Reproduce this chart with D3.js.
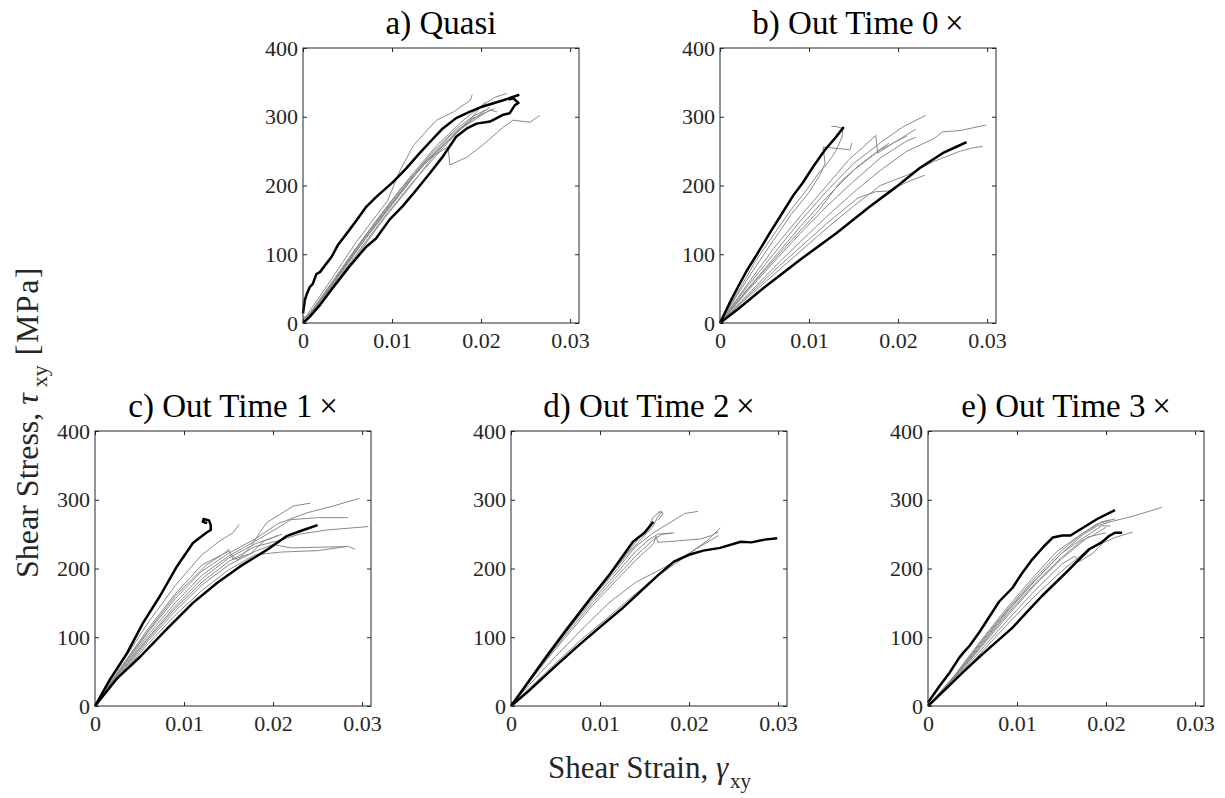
<!DOCTYPE html>
<html>
<head>
<meta charset="utf-8">
<script src="https://cdn.jsdelivr.net/npm/d3@7"></script>
<style>
  body { margin: 0; background: #fff; }
  svg text { font-family: "Liberation Serif", serif; }
</style>
</head>
<body>
<script>
// tick values / labels
var xTicks = [0, 0.01, 0.02, 0.03];
var yTicks = [0, 100, 200, 300, 400];
var titles = ["a) Quasi", "b) Out Time 0\u2009\u00d7", "c) Out Time 1\u2009\u00d7", "d) Out Time 2\u2009\u00d7", "e) Out Time 3\u2009\u00d7"];

// a) Quasi : bounding (black) and other (gray) curves, [strain, stress]
var quasiBlack = [
  [[0,14],[0.0002,33],[0.00045,43],[0.00075,52],[0.0011,57],[0.0015,71],[0.0019,74],[0.0026,86],[0.0032,96],[0.0039,113],[0.0049,130],[0.006,149],[0.0071,169],[0.0082,183],[0.0101,205],[0.0116,225],[0.0131,247],[0.0146,268],[0.0157,283],[0.0172,298],[0.0187,307],[0.0202,315],[0.0225,324],[0.0243,332]],
  [[0,0],[0.00075,9],[0.0019,26],[0.0034,52],[0.0052,82],[0.0071,111],[0.0082,123],[0.0097,150],[0.0112,170],[0.0127,193],[0.0142,217],[0.0157,242],[0.0172,271],[0.0184,283],[0.0195,290],[0.021,293],[0.0225,303],[0.0232,305],[0.0238,317],[0.0242,320],[0.0236,327],[0.0231,325]]
];
var quasiGray = [
  [[0,0],[0.002,35],[0.005,90],[0.008,145],[0.011,196],[0.014,238],[0.0163,256],[0.0165,230],[0.0184,241],[0.0202,259],[0.0225,285],[0.0236,295],[0.0255,292],[0.0266,302]],
  [[0,3],[0.001,22],[0.003,60],[0.006,118],[0.0095,178],[0.0109,222],[0.0124,258],[0.0139,280],[0.015,295],[0.0169,307],[0.0188,324],[0.019,332]],
  [[0,0],[0.003,55],[0.006,110],[0.009,162],[0.012,212],[0.015,258],[0.018,295],[0.02,315],[0.0215,328],[0.0229,334]],
  [[0,0],[0.003,50],[0.006,105],[0.009,158],[0.012,207],[0.015,250],[0.018,285],[0.021,310],[0.0218,307]],
  [[0,0],[0.003,48],[0.006,100],[0.009,152],[0.012,200],[0.015,244],[0.0175,280],[0.0195,300],[0.021,314]],
  [[0,0],[0.003,52],[0.006,108],[0.009,160],[0.012,209],[0.0145,248],[0.017,280],[0.019,300],[0.0205,310]],
  [[0,5],[0.002,30],[0.005,88],[0.008,140],[0.011,190],[0.014,238],[0.0165,272],[0.019,297],[0.0215,312]],
  [[0,0],[0.003,45],[0.006,97],[0.009,150],[0.012,198],[0.0145,240],[0.017,275],[0.0192,300]],
  [[0,8],[0.001,12],[0.0015,25],[0.004,68],[0.007,122],[0.01,172],[0.013,222],[0.016,262],[0.0185,292],[0.0205,322]]
];

// b) Out Time 0x
var out0Black = [
  [[0,0],[0.001,27],[0.002,52],[0.003,76],[0.0043,103],[0.0056,131],[0.007,160],[0.0082,185],[0.0093,204],[0.0105,228],[0.0118,252],[0.013,270],[0.0139,285]],
  [[0,0],[0.002,20],[0.005,52],[0.009,92],[0.0131,131],[0.0168,169],[0.0198,198],[0.0224,225],[0.025,247],[0.0265,256],[0.0277,263]]
];
var out0Gray = [
  [[0,0],[0.002,45],[0.004,90],[0.006,128],[0.008,165],[0.0098,195],[0.0112,220],[0.0118,228],[0.0125,240],[0.013,250],[0.0137,270],[0.0138,283],[0.013,286],[0.0125,286]],
  [[0,0],[0.002,42],[0.004,82],[0.006,120],[0.008,158],[0.01,190],[0.0112,215],[0.0118,232],[0.0116,256],[0.0146,252],[0.0148,262]],
  [[0,0],[0.003,55],[0.006,108],[0.009,155],[0.012,200],[0.0145,238],[0.016,255],[0.0175,273],[0.0177,247],[0.019,258],[0.0205,270],[0.022,282]],
  [[0,0],[0.003,52],[0.006,100],[0.009,148],[0.012,192],[0.015,232],[0.018,262],[0.0205,285],[0.0231,302]],
  [[0,0],[0.003,48],[0.006,94],[0.009,140],[0.012,183],[0.015,222],[0.018,252],[0.021,272]],
  [[0,0],[0.003,45],[0.006,88],[0.009,130],[0.012,170],[0.015,206],[0.018,240],[0.021,265],[0.022,270]],
  [[0,0],[0.003,40],[0.006,80],[0.009,118],[0.012,155],[0.015,190],[0.018,222],[0.021,250],[0.024,268],[0.025,278],[0.027,280],[0.0299,288]],
  [[0,0],[0.003,38],[0.006,75],[0.009,110],[0.012,145],[0.0155,182],[0.0175,191],[0.019,192],[0.021,205],[0.023,215]],
  [[0,0],[0.003,36],[0.006,70],[0.009,104],[0.012,138],[0.015,170],[0.018,200],[0.021,215],[0.024,235],[0.027,250],[0.0285,255],[0.0295,257]],
  [[0,0],[0.004,62],[0.008,120],[0.011,162],[0.0135,205],[0.0155,228],[0.0175,248],[0.019,262]]
];

// c) Out Time 1x
var out1Black = [
  [[0,0],[0.0017,39],[0.0036,77],[0.0054,121],[0.0073,160],[0.0092,203],[0.011,237],[0.0125,252],[0.013,256],[0.013,263],[0.0128,270],[0.0122,272],[0.0121,268],[0.0126,266]],
  [[0,0],[0.0024,39],[0.0051,72],[0.008,111],[0.011,150],[0.0137,179],[0.0163,203],[0.0193,227],[0.0215,247],[0.0234,256],[0.025,263]]
];
var out1Gray = [
  [[0,0],[0.003,62],[0.006,122],[0.009,175],[0.012,220],[0.014,240],[0.0155,252],[0.0162,264]],
  [[0,0],[0.003,58],[0.006,113],[0.009,163],[0.012,205],[0.015,225],[0.016,212],[0.0175,232],[0.0185,252],[0.0193,267],[0.0208,279],[0.0223,291],[0.0242,295]],
  [[0,0],[0.003,55],[0.006,108],[0.009,156],[0.012,196],[0.015,222],[0.018,243],[0.0205,265],[0.0238,281],[0.0265,290],[0.0297,302]],
  [[0,0],[0.003,53],[0.006,104],[0.009,150],[0.012,190],[0.015,218],[0.018,240],[0.02,255],[0.022,271],[0.025,274],[0.0284,274]],
  [[0,0],[0.003,50],[0.006,98],[0.009,142],[0.012,180],[0.015,210],[0.018,232],[0.0205,240],[0.023,250],[0.026,256],[0.0307,261]],
  [[0,0],[0.003,48],[0.006,95],[0.009,138],[0.012,176],[0.015,205],[0.018,225],[0.02,235],[0.022,230],[0.0285,232],[0.0292,228]],
  [[0,0],[0.003,46],[0.006,91],[0.009,132],[0.012,168],[0.015,198],[0.018,220],[0.021,224],[0.025,226],[0.0283,232]],
  [[0,0],[0.003,56],[0.006,110],[0.009,160],[0.0125,205],[0.0145,222],[0.015,228],[0.0155,213],[0.0175,222],[0.019,240],[0.0205,248]],
  [[0,0],[0.003,52],[0.006,100],[0.009,145],[0.012,185],[0.015,215],[0.018,236],[0.02,245],[0.021,250]]
];

// d) Out Time 2x
var out2Black = [
  [[0,0],[0.002,36],[0.004,72],[0.006,107],[0.0089,156],[0.011,190],[0.0137,239],[0.015,252],[0.016,268]],
  [[0,0],[0.002,22],[0.005,58],[0.0075,87],[0.01,115],[0.0125,142],[0.0145,166],[0.0165,190],[0.0183,210],[0.02,220],[0.0216,226],[0.0235,230],[0.0258,239],[0.027,238],[0.0285,242],[0.0299,244]]
];
var out2Gray = [
  [[0,0],[0.002,38],[0.004,75],[0.006,110],[0.009,160],[0.012,205],[0.014,238],[0.0155,262],[0.016,275],[0.0168,283],[0.0171,280],[0.0165,270]],
  [[0,0],[0.002,37],[0.004,73],[0.006,107],[0.009,155],[0.012,200],[0.014,232],[0.016,252],[0.018,268],[0.0195,280],[0.021,283]],
  [[0,0],[0.002,36],[0.004,71],[0.006,104],[0.009,152],[0.012,195],[0.014,225],[0.0155,242],[0.0165,250],[0.0183,252]],
  [[0,0],[0.002,35],[0.004,69],[0.006,101],[0.009,148],[0.012,190],[0.014,218],[0.016,242],[0.017,250],[0.018,251]],
  [[0,0],[0.002,34],[0.004,67],[0.006,98],[0.009,144],[0.012,185],[0.014,212],[0.016,236],[0.0163,247],[0.0165,238],[0.0185,240],[0.0213,243],[0.0225,248],[0.0233,253]],
  [[0,0],[0.002,30],[0.005,72],[0.008,112],[0.011,150],[0.014,180],[0.017,200],[0.02,222],[0.022,240],[0.0235,259]],
  [[0,0],[0.002,25],[0.005,62],[0.008,98],[0.011,130],[0.0135,158],[0.016,185],[0.019,212],[0.021,230],[0.0233,248]],
  [[0,0],[0.002,36],[0.004,72],[0.007,124],[0.01,172],[0.013,220],[0.015,248],[0.016,262],[0.0165,276],[0.017,282],[0.0165,282]]
];

// e) Out Time 3x
var out3Black = [
  [[0,5],[0.0013,29],[0.0024,48],[0.0035,70],[0.004,78],[0.0047,88],[0.0058,108],[0.0068,128],[0.008,152],[0.0095,172],[0.0105,192],[0.0117,213],[0.013,232],[0.014,245],[0.0151,248],[0.016,248],[0.0175,260],[0.019,272],[0.021,285]],
  [[0,0],[0.002,25],[0.004,50],[0.006,74],[0.008,97],[0.0095,114],[0.011,135],[0.0128,160],[0.0155,194],[0.0181,228],[0.0195,238],[0.0203,247],[0.021,252],[0.0218,252]]
];
var out3Gray = [
  [[0,0],[0.003,42],[0.006,90],[0.009,138],[0.012,182],[0.015,222],[0.0175,250],[0.019,262],[0.0205,268],[0.023,276],[0.0263,289]],
  [[0,0],[0.003,44],[0.006,94],[0.009,142],[0.012,186],[0.015,226],[0.0175,252],[0.0195,268],[0.021,272]],
  [[0,0],[0.003,43],[0.006,92],[0.009,140],[0.012,183],[0.015,222],[0.0175,245],[0.0195,262],[0.0205,262]],
  [[0,0],[0.003,40],[0.006,86],[0.009,132],[0.012,176],[0.015,214],[0.018,246],[0.02,252]],
  [[0,0],[0.003,38],[0.006,82],[0.009,126],[0.012,168],[0.015,206],[0.0165,218],[0.017,210],[0.0185,222],[0.02,242]],
  [[0,0],[0.003,36],[0.006,78],[0.009,120],[0.012,160],[0.015,196],[0.018,228],[0.021,245],[0.023,253]],
  [[0,0],[0.003,45],[0.006,96],[0.009,145],[0.012,190],[0.0145,225],[0.017,248],[0.019,265],[0.0205,270]],
  [[0,0],[0.003,41],[0.006,88],[0.009,135],[0.012,178],[0.015,216],[0.0172,240],[0.0185,248],[0.02,260]]
];

var blackSets = [quasiBlack, out0Black, out1Black, out2Black, out3Black];
var graySets = [quasiGray, out0Gray, out1Gray, out2Gray, out3Gray];

// panel placement
var pw = 276, ph = 275;
var origins = [[303, 48], [720, 48], [95, 431], [511, 431], [928, 431]];
var axisColor = "#262626";
var serif = "'Liberation Serif', serif";

var svg = d3.select("body").append("svg")
  .attr("width", 1225)
  .attr("height", 798)
  .attr("font-family", serif);

var x = d3.scaleLinear().domain([0, 0.031]).range([0, pw]);
var y = d3.scaleLinear().domain([0, 400]).range([ph, 0]);

var line = d3.line()
  .x(function(d) { return x(d[0]); })
  .y(function(d) { return y(d[1]); });

origins.forEach(function(o, i) {
  var g = svg.append("g").attr("transform", "translate(" + o[0] + "," + o[1] + ")");

  // gray curves first, black on top
  g.selectAll(".gray").data(graySets[i]).enter().append("path")
    .attr("d", line)
    .attr("fill", "none")
    .attr("stroke", "#8a8a8a")
    .attr("stroke-width", 1);

  g.selectAll(".black").data(blackSets[i]).enter().append("path")
    .attr("d", line)
    .attr("fill", "none")
    .attr("stroke", "#000")
    .attr("stroke-width", 2.5)
    .attr("stroke-linejoin", "round");

  // axes (inward ticks, box)
  var xb = g.append("g").attr("transform", "translate(0," + ph + ")")
    .call(d3.axisBottom(x).tickValues(xTicks).tickSizeInner(-4).tickSizeOuter(0).tickPadding(9)
      .tickFormat(function(d) { return d === 0 ? "0" : d3.format(".2f")(d); }));
  var xt = g.append("g")
    .call(d3.axisTop(x).tickValues(xTicks).tickSizeInner(-4).tickSizeOuter(0).tickFormat(""));
  var yl = g.append("g")
    .call(d3.axisLeft(y).tickValues(yTicks).tickSizeInner(-4).tickSizeOuter(0).tickPadding(5));
  var yr = g.append("g").attr("transform", "translate(" + pw + ",0)")
    .call(d3.axisRight(y).tickValues(yTicks).tickSizeInner(-4).tickSizeOuter(0).tickFormat(""));

  [xb, xt, yl, yr].forEach(function(a) {
    a.attr("font-family", serif).attr("font-size", 22);
    a.select(".domain").remove();
    a.selectAll("line").attr("stroke", axisColor);
    a.selectAll("text").attr("fill", axisColor);
  });
  xb.selectAll("text").attr("dy", "0.71em");

  g.append("rect")
    .attr("width", pw).attr("height", ph)
    .attr("fill", "none")
    .attr("stroke", axisColor)
    .attr("stroke-width", 1);

  g.append("text")
    .attr("x", pw / 2).attr("y", -14)
    .attr("text-anchor", "middle")
    .attr("font-size", 33)
    .attr("fill", "#000")
    .text(titles[i]);
});

// shared axis labels
var xl = svg.append("text")
  .attr("x", 548).attr("y", 778)
  .attr("font-size", 31)
  .attr("fill", axisColor);
xl.append("tspan").text("Shear Strain, ");
xl.append("tspan").text("\u03b3").style("font-style", "italic");
xl.append("tspan").text("xy").attr("dx", 2).attr("dy", 10).attr("font-size", 21);

var ylab = svg.append("text")
  .attr("transform", "translate(38,578) rotate(-90)")
  .attr("font-size", 32)
  .attr("fill", axisColor);
ylab.append("tspan").text("Shear Stress, ");
ylab.append("tspan").text("\u03c4").style("font-style", "italic");
ylab.append("tspan").text("xy").attr("dx", 6).attr("dy", 9).attr("font-size", 22);
ylab.append("tspan").text("[MPa]").attr("dx", 10).attr("dy", -9).attr("letter-spacing", 1.5);
</script>
</body>
</html>
